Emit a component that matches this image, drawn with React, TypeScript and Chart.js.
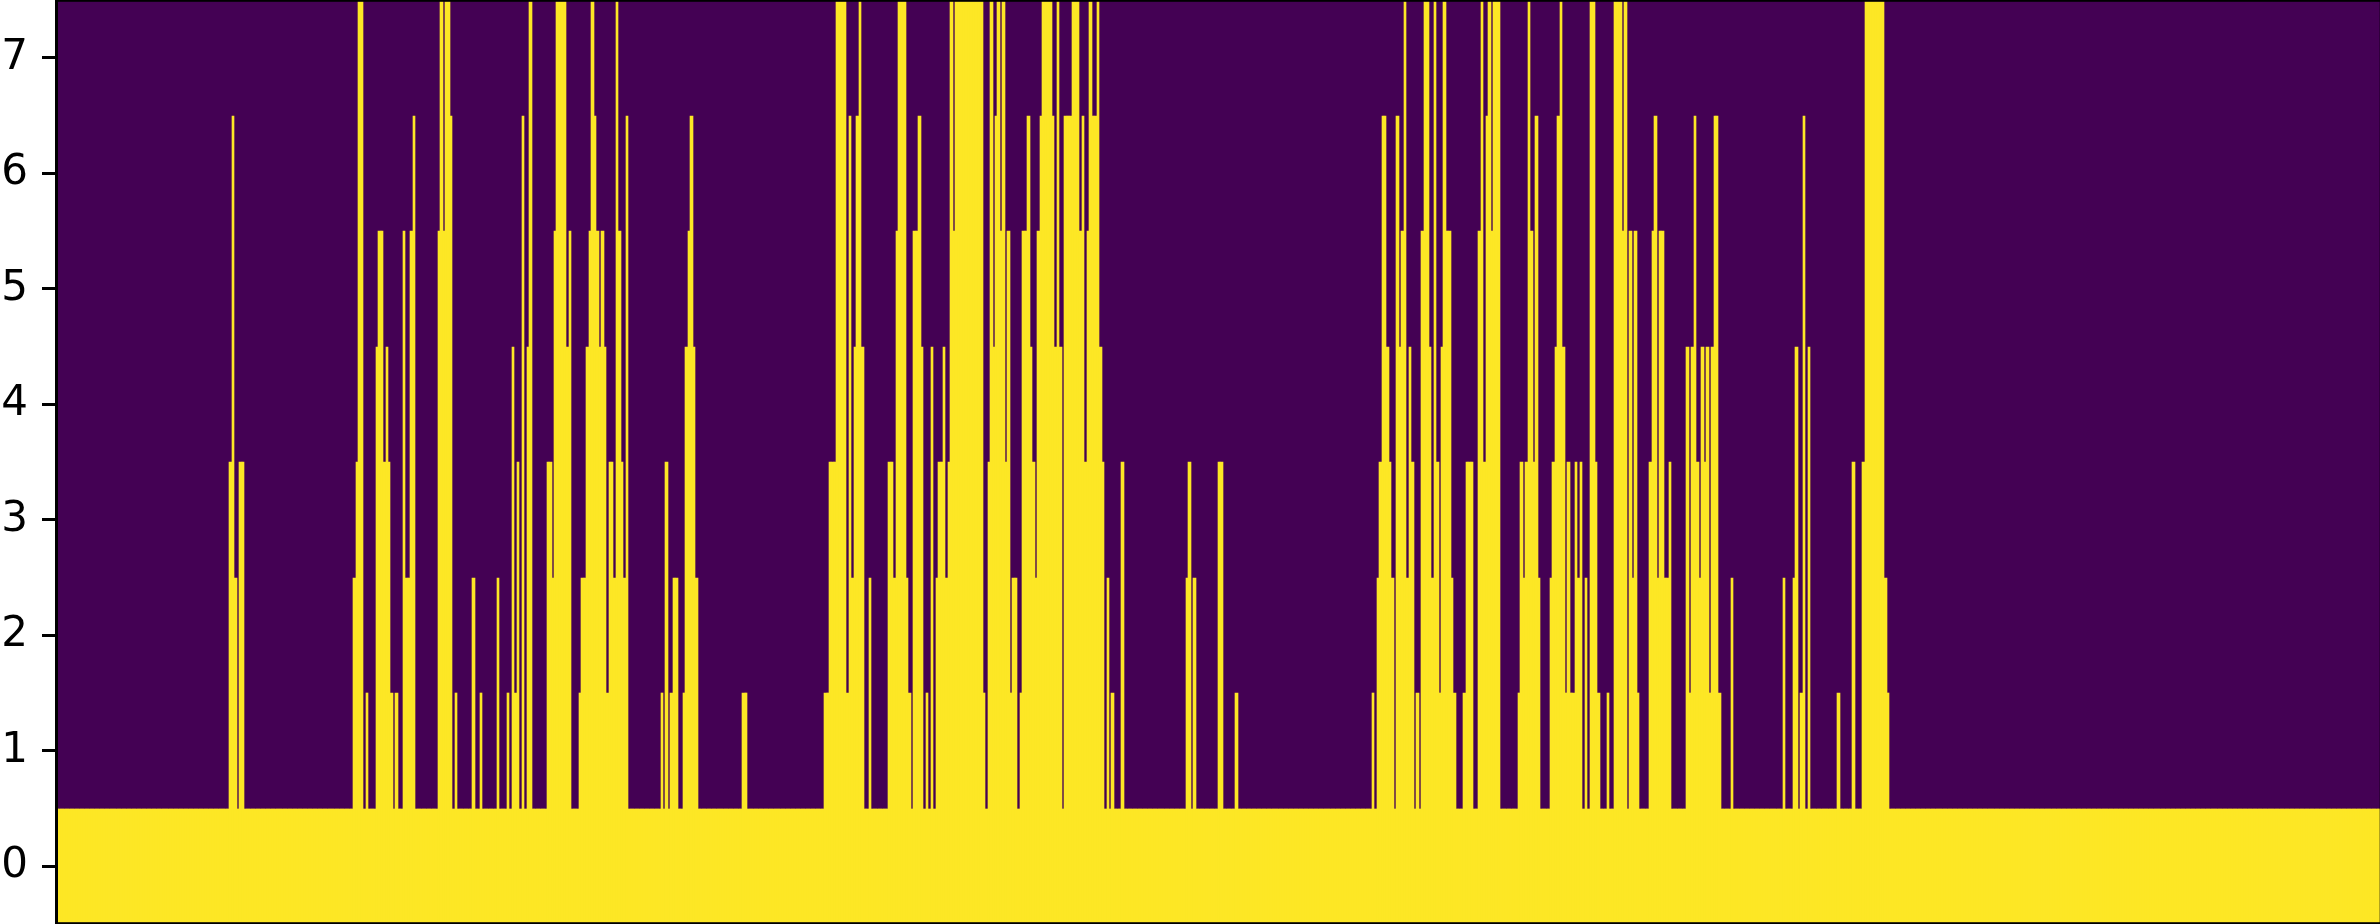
import React, { useEffect, useRef } from "react";
import { Chart, registerables } from "chart.js";

Chart.register(...registerables);

const tickValues = [0, 1, 2, 3, 4, 5, 6, 7];
const yMin = -0.5;
const yMax = 7.5;

// Highest filled row of each stretch of columns, left to right
const runHeights = [
  0, 3, 6, 2, 0, 3, 0, 2, 3, 7, 0, 1, 0, 4, 5, 3, 4, 3, 1, 0, 1, 0, 5, 2, 5, 6, 0, 5, 7, 5, 7, 6, 0, 1, 0, 2, 0, 1, 0, 2,
  0, 1, 0, 4, 1, 3, 0, 6, 0, 4, 7, 0, 3, 2, 5, 7, 4, 5, 0, 1, 2, 4, 5, 7, 6, 5, 4, 5, 4, 1, 3, 2, 7, 5, 3, 2, 6,
  0, 1, 0, 3, 0, 1, 2, 0, 1, 4, 5, 6, 4, 2, 0, 1, 0,
  1, 3, 7, 1, 6, 2, 4, 6, 7, 4, 0, 2, 0, 3, 2, 5, 7, 2, 1, 0, 5, 6, 4, 0, 1, 0, 4, 0, 2, 3, 4, 2, 3, 7, 5, 7,
  1, 0, 3, 7, 4, 6, 7, 5, 7, 3, 5, 1, 2, 0, 1, 5, 6, 4, 3, 2, 5, 6, 7, 6, 4, 7, 4, 0, 6, 7, 5, 6, 3, 5, 7, 6, 7,
  4, 3, 0, 2, 0, 1, 0, 3, 0, 2, 3, 0, 2, 0, 3, 0, 1, 0, 1, 0,
  2, 3, 6, 4, 3, 2, 0, 6, 4, 5, 7, 2, 4, 3, 0, 1, 0, 5, 7, 4, 2, 7, 3, 1, 4, 7, 5, 2, 1, 0, 1, 3, 0, 5, 7, 3, 6, 7, 5, 7,
  0, 1, 3, 2, 3, 7, 5, 3, 6, 2, 0, 2, 3, 4, 6, 7, 4, 1, 3, 1, 3, 2, 3, 0, 2, 0, 7, 3, 1, 0, 1, 0, 7, 5, 7, 0, 5, 2, 5, 1, 0,
  3, 5, 6, 2, 5, 2, 3, 0, 4, 1, 4, 6, 3, 2, 4, 3, 4, 1, 4, 6, 1, 0, 2, 0, 2, 0, 2, 4, 0, 1, 6, 0, 4, 0, 1, 0, 3, 0, 3, 7, 2, 1, 0,
];

// How many columns each stretch above spans
const runLengths = [
  70, 1, 1, 1, 1, 2, 44, 1, 1, 2, 1, 1, 3, 1, 2, 1, 1, 1, 1, 1, 1, 2, 1, 2, 1, 1, 9, 1, 1, 1, 2, 1, 1, 1, 6, 1, 2, 1, 6, 1,
  3, 1, 1, 1, 1, 1, 1, 1, 1, 1, 1, 6, 2, 1, 1, 4, 1, 1, 3, 1, 2, 1, 1, 1, 1, 1, 1, 1, 1, 1, 2, 1, 1, 1, 1, 1, 1,
  13, 1, 1, 1, 1, 1, 2, 2, 1, 1, 1, 1, 1, 1, 18, 2, 31,
  2, 3, 4, 1, 1, 1, 1, 1, 1, 1, 2, 1, 7, 2, 1, 1, 3, 1, 1, 1, 2, 1, 1, 1, 1, 1, 1, 1, 1, 2, 1, 1, 1, 1, 1, 11,
  1, 1, 1, 1, 1, 1, 1, 1, 1, 1, 1, 1, 2, 1, 1, 2, 1, 1, 1, 1, 1, 1, 4, 1, 1, 1, 1, 1, 3, 3, 1, 1, 1, 1, 1, 2, 1,
  1, 1, 1, 1, 1, 1, 3, 1, 25, 1, 1, 1, 1, 9, 2, 5, 1, 54, 1, 1,
  1, 1, 2, 1, 1, 1, 1, 1, 1, 1, 1, 1, 1, 1, 1, 1, 1, 1, 2, 1, 1, 1, 1, 1, 1, 1, 2, 1, 1, 3, 1, 3, 2, 1, 1, 1, 1, 1, 1, 3,
  7, 1, 1, 1, 1, 1, 1, 1, 1, 1, 4, 1, 1, 1, 1, 1, 1, 1, 1, 2, 1, 1, 1, 1, 1, 1, 2, 1, 1, 3, 1, 2, 3, 1, 1, 1, 1, 1, 1, 1, 4,
  1, 1, 1, 1, 2, 2, 1, 6, 1, 1, 1, 1, 1, 1, 1, 1, 1, 1, 1, 2, 1, 4, 1, 20, 1, 3, 1, 1, 1, 1, 1, 1, 1, 11, 1, 5, 1, 3, 1, 8, 1, 1, 198,
];

const columnHeights: number[] = [];
runHeights.forEach((height, i) => {
  for (let n = 0; n < runLengths[i]; n++) columnHeights.push(height);
});

const PURPLE = "#440154";
const YELLOW = "#fde725";

const heatmapFrame = {
  id: "heatmapFrame",
  beforeDatasetsDraw(chart: any) {
    const { ctx, chartArea: a } = chart;
    ctx.save();
    ctx.fillStyle = PURPLE;
    ctx.fillRect(a.left, a.top, a.right - a.left, a.bottom - a.top);
    ctx.restore();
    // snap the columns to whole pixels so neighbours leave no seams
    chart.getDatasetMeta(0).data.forEach((bar: any) => {
      const left = Math.round(bar.x - bar.width / 2);
      const right = Math.round(bar.x + bar.width / 2);
      bar.x = (left + right) / 2;
      bar.width = right - left;
      bar.y = Math.round(bar.y);
      bar.base = Math.round(bar.base);
    });
  },
  afterDraw(chart: any) {
    const { ctx, chartArea: a } = chart;
    ctx.save();
    ctx.strokeStyle = "#000000";
    ctx.lineWidth = 3;
    ctx.strokeRect(a.left + 0.5, a.top + 0.3, a.right - a.left + 0.7, a.bottom - a.top - 0.6);
    ctx.restore();
  },
};

export default function App() {
  const ref = useRef<HTMLCanvasElement | null>(null);

  useEffect(() => {
    document.body.style.margin = "0";
    document.body.style.background = "#ffffff";
    const chart = new Chart(ref.current as HTMLCanvasElement, {
      type: "bar",
      data: {
        labels: columnHeights.map((_, i) => i),
        datasets: [
          {
            data: columnHeights.map((h) => [yMin, h + 0.5]),
            backgroundColor: YELLOW,
            borderWidth: 0,
            barPercentage: 1,
            categoryPercentage: 1,
          },
        ],
      } as any,
      options: {
        animation: false,
        responsive: false,
        devicePixelRatio: 1,
        events: [],
        layout: { padding: 0 },
        plugins: { legend: { display: false }, tooltip: { enabled: false }, title: { display: false } },
        scales: {
          x: { display: false, offset: true },
          y: {
            min: yMin,
            max: yMax,
            afterBuildTicks(scale: any) {
              scale.ticks = tickValues.map((value) => ({ value }));
            },
            afterFit(scale: any) {
              scale.width = 56;
              scale.paddingTop = 0;
              scale.paddingBottom = 0;
            },
            ticks: {
              font: { family: "'DejaVu Sans'", size: 42 },
              color: "#000000",
              padding: 14,
              autoSkip: false,
              callback: (v: any) => String(v),
            },
            border: { display: false },
            grid: {
              drawOnChartArea: false,
              drawTicks: true,
              tickLength: 14,
              tickWidth: 3,
              tickColor: "#000000",
            },
          },
        },
      } as any,
      plugins: [heatmapFrame],
    });
    return () => chart.destroy();
  }, []);

  return <canvas ref={ref} width={2380} height={924} style={{ display: "block", width: 2380, height: 924 }} />;
}
